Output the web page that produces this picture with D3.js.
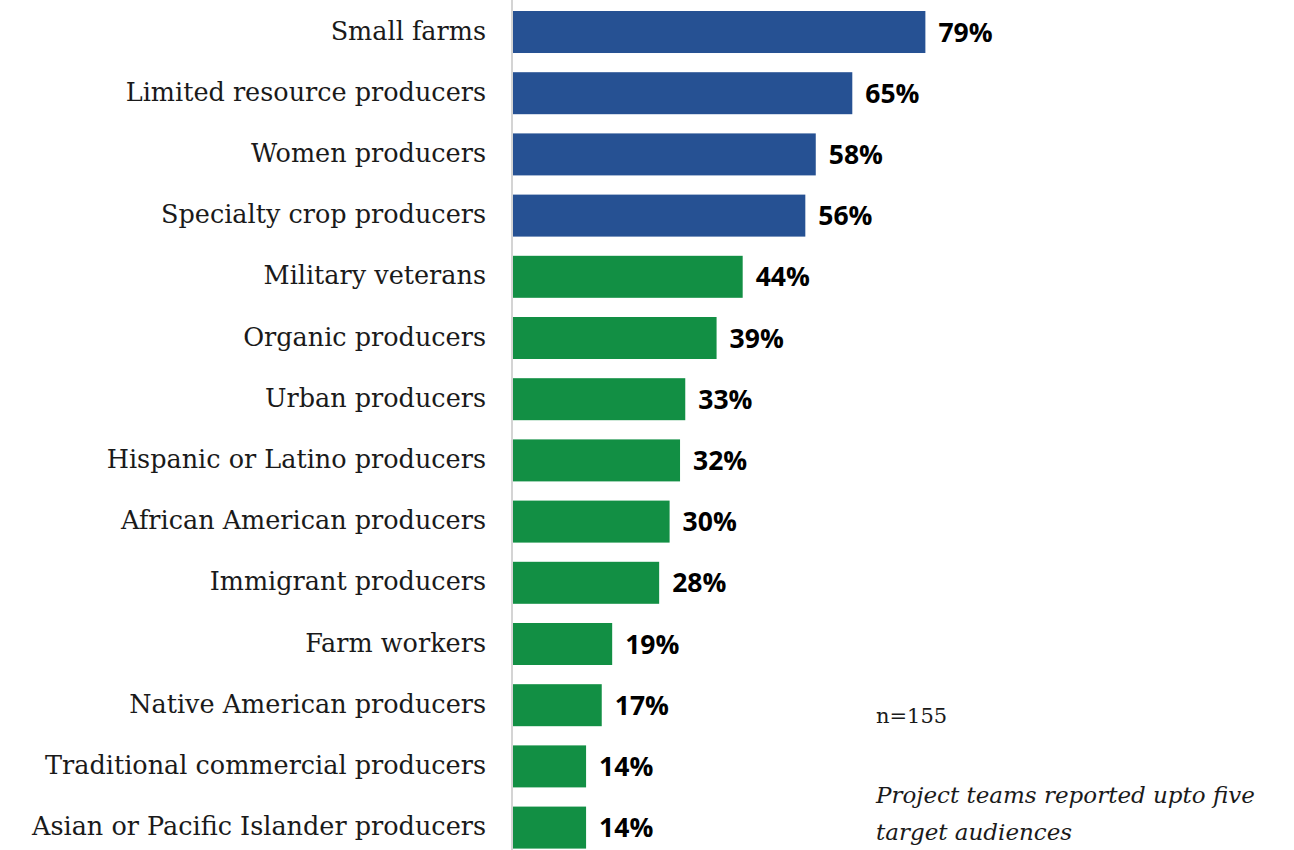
<!DOCTYPE html>
<html>
<head>
<meta charset="utf-8">
<script src="https://cdn.jsdelivr.net/npm/d3@7"></script>
<style>
  html, body { margin: 0; padding: 0; background: #fff; }
  svg { display: block; }
</style>
</head>
<body>
<div id="chart"></div>
<script>
// Target audiences (share of project teams)
const categories = [
    "Small farms",
    "Limited resource producers",
    "Women producers",
    "Specialty crop producers",
    "Military veterans",
    "Organic producers",
    "Urban producers",
    "Hispanic or Latino producers",
    "African American producers",
    "Immigrant producers",
    "Farm workers",
    "Native American producers",
    "Traditional commercial producers",
    "Asian or Pacific Islander producers"
];
const values = [79, 65, 58, 56, 44, 39, 33, 32, 30, 28, 19, 17, 14, 14];
// top four are highlighted in blue
const groups = ["top", "top", "top", "top", "rest", "rest", "rest", "rest", "rest", "rest", "rest", "rest", "rest", "rest"];
const noteN = "n=155";
const noteLines = ["Project teams reported upto five", "target audiences"];

const width = 1294, height = 850;
const x0 = 513;

const svg = d3.select("#chart")
    .append("svg")
    .attr("width", width)
    .attr("height", height);

const x = d3.scaleLinear()
    .domain([0, 100])
    .range([x0, x0 + 522]);

const y = d3.scaleBand()
    .domain(categories)
    .range([1.4, 858.2])
    .paddingInner(0.3137)
    .paddingOuter(0.157);

const color = d3.scaleOrdinal()
    .domain(["top", "rest"])
    .range(["#265193", "#128f44"]);

const data = categories.map((c, i) => ({ name: c, value: values[i], group: groups[i] }));

// bars
svg.selectAll("rect.bar")
    .data(data)
    .enter()
    .append("rect")
    .attr("class", "bar")
    .attr("x", x(0))
    .attr("y", d => y(d.name))
    .attr("width", d => x(d.value) - x(0))
    .attr("height", y.bandwidth())
    .attr("fill", d => color(d.group));

// vertical axis line
svg.append("line")
    .attr("x1", x0 - 1).attr("x2", x0 - 1)
    .attr("y1", 0).attr("y2", height)
    .attr("stroke", "#d4d4d4")
    .attr("stroke-width", 2);

// category labels
svg.selectAll("text.cat")
    .data(data)
    .enter()
    .append("text")
    .attr("class", "cat")
    .attr("x", 486)
    .attr("y", d => y(d.name) + y.bandwidth() / 2)
    .attr("dy", "0.3em")
    .attr("text-anchor", "end")
    .attr("font-family", "'DejaVu Serif', serif")
    .attr("font-size", 25.5)
    .attr("fill", "#1a1a1a")
    .text(d => d.name);

// value labels
svg.selectAll("text.val")
    .data(data)
    .enter()
    .append("text")
    .attr("class", "val")
    .attr("x", d => x(d.value) + 13)
    .attr("y", d => y(d.name) + y.bandwidth() / 2)
    .attr("dy", "0.36em")
    .attr("font-family", "'Open Sans', 'Noto Sans', sans-serif")
    .attr("font-weight", "bold")
    .attr("font-size", 26.5)
    .attr("fill", "#000")
    .text(d => d.value + "%");

// notes
svg.append("text")
    .attr("x", 876)
    .attr("y", 723)
    .attr("font-family", "'DejaVu Serif', serif")
    .attr("font-size", 21)
    .attr("fill", "#1a1a1a")
    .text(noteN);

svg.selectAll("text.note")
    .data(noteLines)
    .enter()
    .append("text")
    .attr("class", "note")
    .attr("x", 876)
    .attr("y", (d, i) => 803 + i * 37)
    .attr("font-family", "'DejaVu Serif', serif")
    .attr("font-style", "italic")
    .attr("font-size", 23)
    .attr("fill", "#1a1a1a")
    .text(d => d);
</script>
</body>
</html>
